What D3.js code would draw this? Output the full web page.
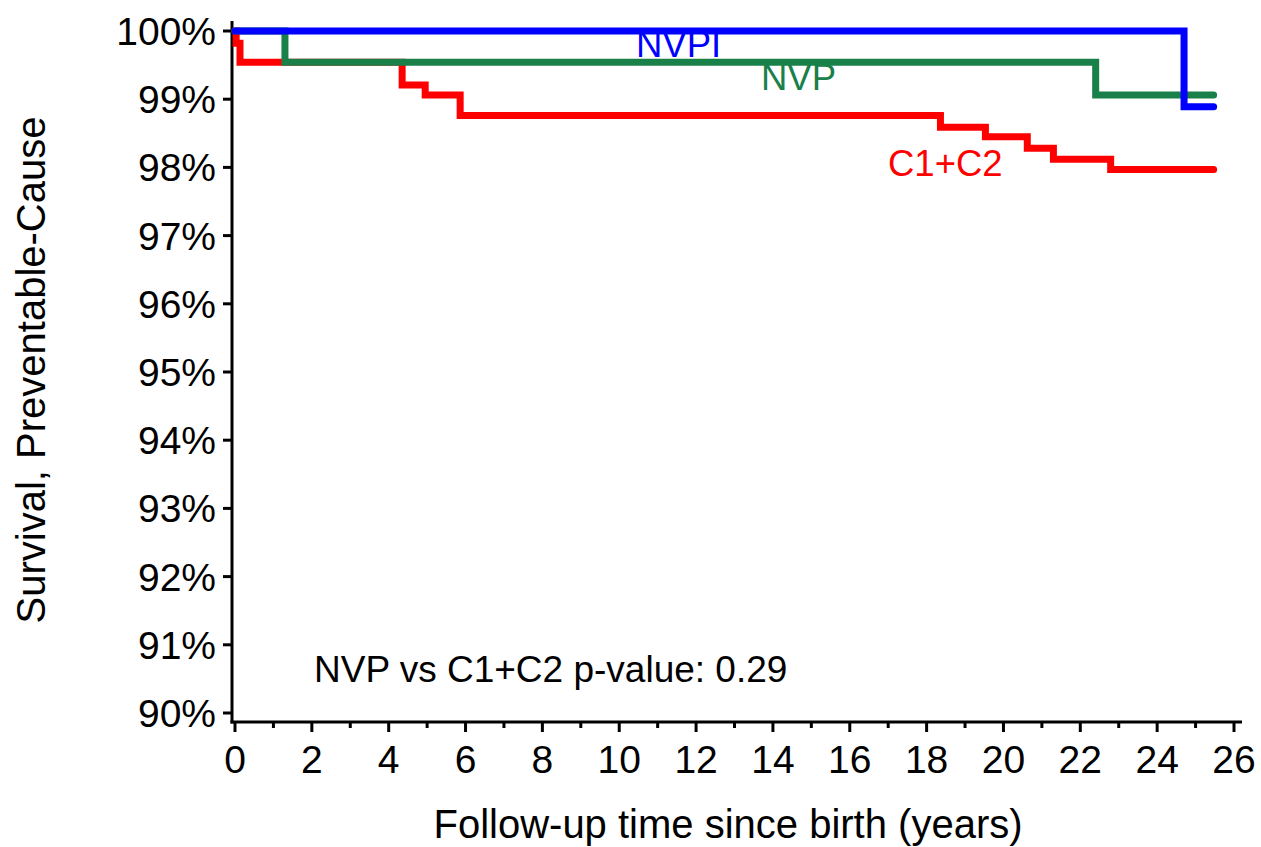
<!DOCTYPE html>
<html>
<head>
<meta charset="utf-8">
<script src="https://d3js.org/d3.v7.min.js"></script>
<style>
  body { margin: 0; background: #fff; }
  text { font-family: "Liberation Sans", Arial, sans-serif; }
</style>
</head>
<body>
<svg id="chart"></svg>
<script>
// step times (years) and survival (%) for each group
var nvpiTime = [0, 24.7, 25.47];
var nvpiSurv = [100, 98.89, 98.89];

var nvpTime = [0, 1.3, 22.4, 25.47];
var nvpSurv = [100, 99.54, 99.06, 99.06];

var cTime = [0, 0.03, 0.13, 4.35, 4.95, 5.86, 18.36, 19.53, 20.62, 21.3, 22.79, 25.47];
var cSurv = [100, 99.82, 99.54, 99.21, 99.06, 98.76, 98.59, 98.45, 98.28, 98.12, 97.97, 97.97];

var xTicks = d3.range(0, 27, 2);
var xMinor = d3.range(1, 27, 2);
var yTicks = d3.range(90, 101, 1);

var width = 1261, height = 847;

var svg = d3.select('#chart')
    .attr('width', width)
    .attr('height', height);

var x = d3.scaleLinear().domain([0, 26]).range([235, 1234]);
var y = d3.scaleLinear().domain([90, 100]).range([713, 31]);

var axisX = 232, axisY = 722;

// axes lines
svg.append('line')
    .attr('x1', axisX).attr('x2', axisX)
    .attr('y1', 21).attr('y2', axisY + 1.5)
    .attr('stroke', '#000').attr('stroke-width', 3);
svg.append('line')
    .attr('x1', axisX - 1.5).attr('x2', 1242)
    .attr('y1', axisY).attr('y2', axisY)
    .attr('stroke', '#000').attr('stroke-width', 3);

// y ticks + labels
svg.selectAll('.ytick')
    .data(yTicks)
    .enter().append('line')
    .attr('x1', axisX - 9).attr('x2', axisX)
    .attr('y1', function (d) { return y(d); })
    .attr('y2', function (d) { return y(d); })
    .attr('stroke', '#000').attr('stroke-width', 3);
svg.selectAll('.ylab')
    .data(yTicks)
    .enter().append('text')
    .attr('x', 216)
    .attr('y', function (d) { return y(d) + 14; })
    .attr('text-anchor', 'end')
    .style('font-size', '39px')
    .text(function (d) { return d + '%'; });

// x ticks + labels
svg.selectAll('.xtick')
    .data(xTicks)
    .enter().append('line')
    .attr('x1', function (d) { return x(d); })
    .attr('x2', function (d) { return x(d); })
    .attr('y1', axisY).attr('y2', axisY + 10)
    .attr('stroke', '#000').attr('stroke-width', 3);
svg.selectAll('.xminor')
    .data(xMinor)
    .enter().append('line')
    .attr('x1', function (d) { return x(d); })
    .attr('x2', function (d) { return x(d); })
    .attr('y1', axisY).attr('y2', axisY + 6)
    .attr('stroke', '#000').attr('stroke-width', 3);
svg.selectAll('.xlab')
    .data(xTicks)
    .enter().append('text')
    .attr('x', function (d) { return x(d); })
    .attr('y', 773)
    .attr('text-anchor', 'middle')
    .style('font-size', '39px')
    .text(function (d) { return d; });

// axis titles
svg.append('text')
    .attr('x', 728).attr('y', 838)
    .attr('text-anchor', 'middle')
    .style('font-size', '40px')
    .text('Follow-up time since birth (years)');
svg.append('text')
    .attr('transform', 'translate(45,370) rotate(-90)')
    .attr('text-anchor', 'middle')
    .style('font-size', '40px')
    .text('Survival, Preventable-Cause');

// survival step curves
var line = d3.line()
    .x(function (d) { return x(d[0]); })
    .y(function (d) { return y(d[1]); })
    .curve(d3.curveStepAfter);

function drawCurve(times, surv, color) {
    svg.append('path')
        .datum(d3.zip(times, surv))
        .attr('d', line)
        .attr('fill', 'none')
        .attr('stroke', color)
        .attr('stroke-width', 7)
        .attr('stroke-linecap', 'round');
}

drawCurve(cTime, cSurv, '#ff0000');
drawCurve(nvpTime, nvpSurv, '#19804a');
drawCurve(nvpiTime, nvpiSurv, '#0000ff');

// curve labels
svg.append('text').attr('x', 636).attr('y', 57)
    .style('font-size', '36.5px').attr('fill', '#0000ff').text('NVPI');
svg.append('text').attr('x', 761).attr('y', 90)
    .style('font-size', '36.5px').attr('fill', '#19804a').text('NVP');
svg.append('text').attr('x', 888).attr('y', 176)
    .style('font-size', '36.5px').attr('fill', '#ff0000').text('C1+C2');

svg.append('text').attr('x', 314).attr('y', 682)
    .style('font-size', '37px').attr('fill', '#000')
    .text('NVP vs C1+C2 p-value: 0.29');
</script>
</body>
</html>
